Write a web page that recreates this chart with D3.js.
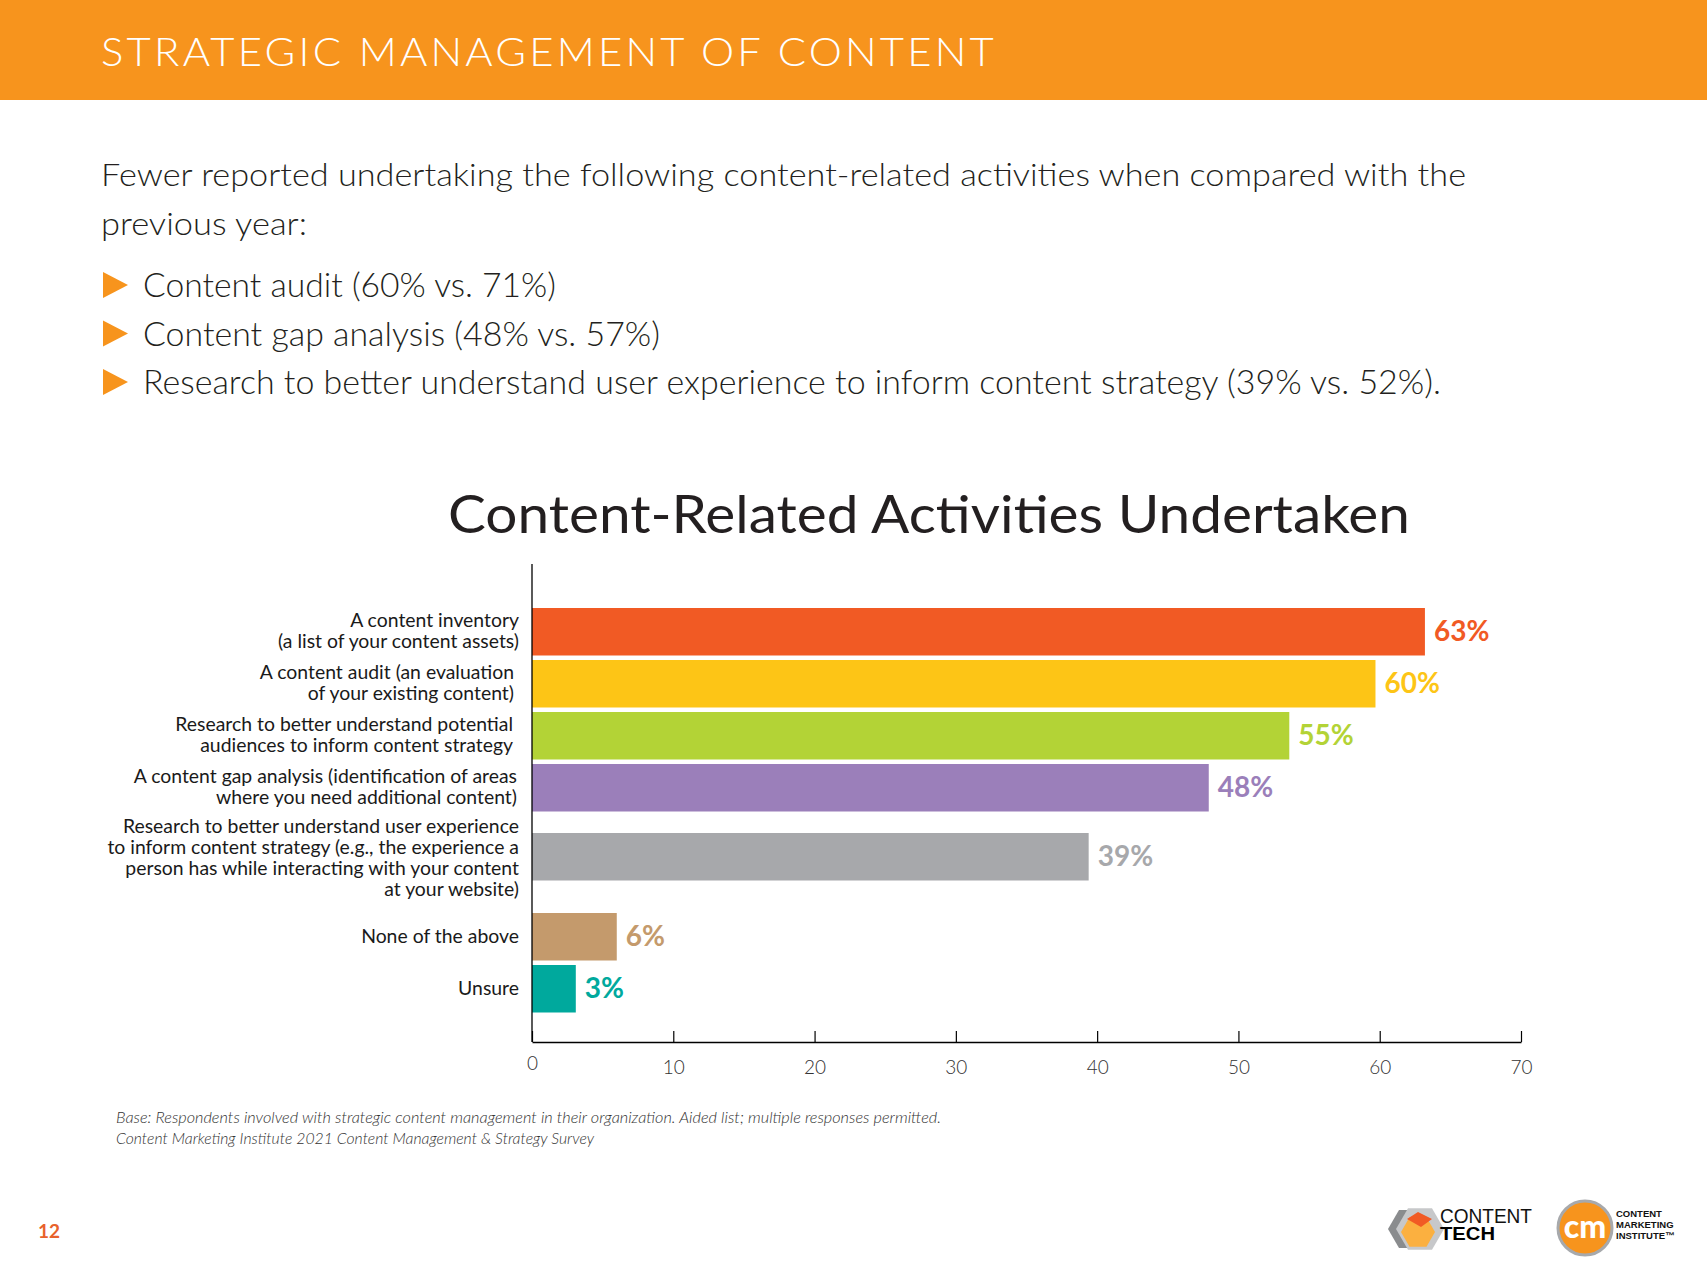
<!DOCTYPE html>
<html>
<head>
<meta charset="utf-8">
<script src="https://d3js.org/d3.v7.min.js"></script>
<style>
  html, body { margin: 0; padding: 0; background: #fff; }
  svg { display: block; }
  text { font-family: Lato, "Open Sans", sans-serif; }
</style>
</head>
<body>
<svg id="page" width="1707" height="1280"></svg>
<script>
// ---- data ----
const categories = [
  "A content inventory\n(a list of your content assets)",
  "A content audit (an evaluation\nof your existing content)",
  "Research to better understand potential\naudiences to inform content strategy",
  "A content gap analysis (identification of areas\nwhere you need additional content)",
  "Research to better understand user experience\nto inform content strategy (e.g., the experience a\nperson has while interacting with your content\nat your website)",
  "None of the above",
  "Unsure"
];
const values = [63.2, 59.7, 53.6, 47.9, 39.4, 6.0, 3.1];   // bar lengths as drawn
const valueLabels = ["63%", "60%", "55%", "48%", "39%", "6%", "3%"];
const xTicks = [0, 10, 20, 30, 40, 50, 60, 70];

const headerTitle = "STRATEGIC MANAGEMENT OF CONTENT";
const introLines = [
  "Fewer reported undertaking the following content-related activities when compared with the",
  "previous year:"
];
const bullets = [
  "Content audit (60% vs. 71%)",
  "Content gap analysis (48% vs. 57%)",
  "Research to better understand user experience to inform content strategy (39% vs. 52%)."
];
const chartTitle = "Content-Related Activities Undertaken";
const footnotes = [
  "Base: Respondents involved with strategic content management in their organization. Aided list; multiple responses permitted.",
  "Content Marketing Institute 2021 Content Management & Strategy Survey"
];
const pageNumber = "12";

// ---- styles / layout ----
const barColors = ["#F15A24", "#FDC516", "#B3D336", "#9B7FBA", "#A7A8AB", "#C49A6C", "#00A99D"];
const orange = "#F7941D";

const svg = d3.select("#page");

// fit a text element to a given width by stretching it a little
function fit(sel, w) {
  sel.attr("textLength", w).attr("lengthAdjust", "spacingAndGlyphs");
}

// header band
svg.append("rect").attr("x", 0).attr("y", 0).attr("width", 1707).attr("height", 100).attr("fill", orange);
svg.append("text")
  .attr("x", 101).attr("y", 66)
  .attr("fill", "#fff")
  .style("font-size", "39px").style("font-weight", 300)
  .style("letter-spacing", "3px")
  .text(headerTitle)
  .call(fit, 896);

// intro paragraph
const introWidths = [1365, 206];
introLines.forEach((t, i) => {
  svg.append("text")
    .attr("x", 101).attr("y", 186 + i * 49)
    .attr("fill", "#231F20")
    .style("font-size", "32px").style("font-weight", 300)
    .text(t)
    .call(fit, introWidths[i]);
});

// bullet list
const bulletWidths = [413, 517, 1298];
bullets.forEach((t, i) => {
  const by = 297 + i * 48.5;
  svg.append("path")
    .attr("d", `M103,${by - 25}L128,${by - 12}L103,${by + 1}Z`)
    .attr("fill", orange);
  svg.append("text")
    .attr("x", 143).attr("y", by)
    .attr("fill", "#231F20")
    .style("font-size", "34px").style("font-weight", 300)
    .text(t)
    .call(fit, bulletWidths[i]);
});

// chart title
svg.append("text")
  .attr("x", 448).attr("y", 533)
  .attr("fill", "#231F20")
  .style("font-size", "52px").style("font-weight", 400)
  .text(chartTitle)
  .call(fit, 962);

// ---- chart ----
const x = d3.scaleLinear().domain([0, 70]).range([532, 1521]);
const y = d3.scaleBand()
  .domain(categories)
  .range([608, 608 + 52 * 7 - 4.5])
  .paddingInner(4.5 / 52);
// extra room around the long four-line label
const rowShift = [0, 0, 0, 0, 17, 45, 45];
const barTop = (d, i) => y(d) + rowShift[i];
const barMid = (d, i) => barTop(d, i) + y.bandwidth() / 2;

const g = svg.append("g");

g.selectAll("rect.bar")
  .data(categories)
  .join("rect")
  .attr("class", "bar")
  .attr("x", x(0))
  .attr("y", barTop)
  .attr("width", (d, i) => x(values[i]) - x(0))
  .attr("height", y.bandwidth())
  .attr("fill", (d, i) => barColors[i]);

g.selectAll("text.val")
  .data(categories)
  .join("text")
  .attr("class", "val")
  .attr("x", (d, i) => x(values[i]) + 9)
  .attr("y", (d, i) => barMid(d, i) + 9)
  .attr("fill", (d, i) => barColors[i])
  .style("font-size", "28px").style("font-weight", 700)
  .text((d, i) => valueLabels[i]);

// category labels (right aligned, multi-line)
const labelRight = [519, 514, 513, 517, 519, 519, 519];
g.selectAll("text.cat")
  .data(categories)
  .join("text")
  .attr("class", "cat")
  .attr("text-anchor", "end")
  .attr("fill", "#1A1A1A")
  .style("font-size", "19.4px")
  .each(function (d, i) {
    const lines = d.split("\n");
    const mid = barMid(d, i) + 6 + (lines.length > 2 ? 2 : 0);
    d3.select(this).selectAll("tspan")
      .data(lines)
      .join("tspan")
      .attr("x", labelRight[i])
      .attr("y", (l, k) => mid + (k - (lines.length - 1) / 2) * 21)
      .text(l => l);
  });

// y axis line
g.append("line")
  .attr("x1", x(0)).attr("x2", x(0))
  .attr("y1", 564).attr("y2", 1042)
  .attr("stroke", "#000").attr("stroke-width", 1.3);

// x axis
const xAxis = g.append("g")
  .attr("transform", "translate(0,1042)")
  .call(d3.axisBottom(x).tickValues(xTicks).tickSizeInner(-11).tickSizeOuter(0).tickPadding(19));
xAxis.select(".domain").attr("stroke", "#000").attr("stroke-width", 1.5);
xAxis.selectAll(".tick line").attr("stroke", "#000").attr("stroke-width", 1.2);
xAxis.selectAll(".tick text")
  .attr("fill", "#333")
  .style("font-family", "Lato, sans-serif")
  .style("font-size", "19px").style("font-weight", 300)
  .attr("dy", d => d === 0 ? "0.45em" : "0.71em");

// footnote
const footWidths = [825, 478];
footnotes.forEach((t, i) => {
  svg.append("text")
    .attr("x", 116).attr("y", 1123 + i * 21)
    .attr("fill", "#333")
    .style("font-size", "15px").style("font-style", "italic").style("font-weight", 300)
    .text(t)
    .call(fit, footWidths[i]);
});

// page number
svg.append("text")
  .attr("x", 38).attr("y", 1238)
  .attr("fill", "#E8622C")
  .style("font-size", "19px").style("font-weight", 700)
  .text(pageNumber);

// ---- logos ----
function hex(cx, cy, r) {
  return d3.range(6).map(k => {
    const a = Math.PI / 3 * k;
    return [cx + r * Math.cos(a), cy + r * Math.sin(a)];
  });
}
const logo = svg.append("g");
logo.append("polygon").attr("points", hex(1410, 1229, 22).join(" ")).attr("fill", "#8A8C8E");
logo.append("polygon").attr("points", hex(1420, 1229, 24).join(" ")).attr("fill", "#C7C8CA");
logo.append("polygon").attr("points", hex(1418, 1232, 17).join(" ")).attr("fill", "#FBB040");
logo.append("path").attr("d", "M1407,1219L1418,1212L1432,1219L1421,1227Z").attr("fill", "#F15A24");
logo.append("text").attr("x", 1440).attr("y", 1223)
  .style("font-family", "'Liberation Sans', sans-serif").style("font-size", "20px").style("font-weight", 400)
  .attr("fill", "#111").text("CONTENT").call(fit, 92);
logo.append("text").attr("x", 1440).attr("y", 1240)
  .style("font-family", "'Liberation Sans', sans-serif").style("font-size", "18px").style("font-weight", 900)
  .attr("fill", "#000").text("TECH").call(fit, 55);

logo.append("circle").attr("cx", 1585).attr("cy", 1228).attr("r", 27)
  .attr("fill", orange).attr("stroke", "#A7A9AC").attr("stroke-width", 3);
logo.append("text").attr("x", 1585).attr("y", 1238).attr("text-anchor", "middle")
  .attr("fill", "#fff").style("font-size", "32px").style("font-weight", 900).text("cm");
["CONTENT", "MARKETING", "INSTITUTE\u2122"].forEach((t, i) => {
  logo.append("text").attr("x", 1616).attr("y", 1217 + i * 11)
    .style("font-family", "'Liberation Sans', sans-serif").style("font-size", "9.5px").style("font-weight", 700)
    .attr("fill", "#111").text(t);
});
</script>
</body>
</html>
